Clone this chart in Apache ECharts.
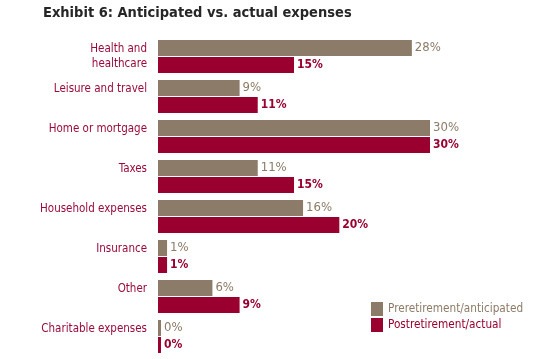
<!DOCTYPE html>
<html>
<head>
<meta charset="utf-8">
<script src="https://cdn.jsdelivr.net/npm/echarts@6/dist/echarts.min.js"></script>
<style>html,body{margin:0;padding:0;background:#fff}#c{width:544px;height:359px}</style>
</head>
<body>
<div id="c"></div>
<script>
var categories = ["Health and\nhealthcare", "Leisure and travel", "Home or mortgage", "Taxes", "Household expenses", "Insurance", "Other", "Charitable expenses"];
var anticipated = [28, 9, 30, 11, 16, 1, 6, 0];
var actual = [15, 11, 30, 15, 20, 1, 9, 0];
var seriesNames = ["Preretirement/anticipated", "Postretirement/actual"];

var FONT = "'DejaVu Sans Condensed', 'Liberation Sans Narrow', sans-serif";
var C1 = "#8b7b68", C2 = "#99002f";
var chart = echarts.init(document.getElementById('c'), null, {renderer: 'canvas'});
chart.setOption({
  animation: false,
  backgroundColor: '#fff',
  title: {
    text: 'Exhibit 6: Anticipated vs. actual expenses',
    left: 43, top: 6, padding: 0,
    textStyle: {fontFamily: FONT, fontSize: 14.5, fontWeight: 'bold', color: '#262626'}
  },
  legend: {
    orient: 'vertical', left: 371, top: 302, padding: 0,
    itemWidth: 12, itemHeight: 14, itemGap: 2,
    icon: 'rect',
    data: [
      {name: seriesNames[0], textStyle: {color: C1}},
      {name: seriesNames[1], textStyle: {color: C2}}
    ],
    textStyle: {fontFamily: FONT, fontSize: 11.7}
  },
  grid: {left: 158, top: 36.5, width: 272, bottom: 2.5, containLabel: false},
  xAxis: {
    type: 'value', min: 0, max: 30, show: false
  },
  yAxis: {
    type: 'category', data: categories, inverse: true,
    axisLine: {show: false}, axisTick: {show: false}, splitLine: {show: false},
    axisLabel: {
      margin: 11, fontFamily: FONT, fontSize: 11.5, color: '#9b0a3c', lineHeight: 15,
      formatter: function (v) { return v.indexOf('\n') >= 0 ? v : v + '\n '; }
    }
  },
  series: [
    {
      name: seriesNames[0], type: 'bar', data: anticipated,
      itemStyle: {color: C1}, barWidth: 16, barGap: '6%', barMinHeight: 3,
      label: {show: true, position: 'right', distance: 3, formatter: '{c}%',
        fontFamily: FONT, fontSize: 13, color: C1}
    },
    {
      name: seriesNames[1], type: 'bar', data: actual,
      itemStyle: {color: C2}, barWidth: 16, barGap: '6%', barMinHeight: 3,
      label: {show: true, position: 'right', distance: 3, formatter: '{c}%',
        fontFamily: FONT, fontSize: 12, fontWeight: 'bold', color: C2}
    }
  ]
});
</script>
</body>
</html>
